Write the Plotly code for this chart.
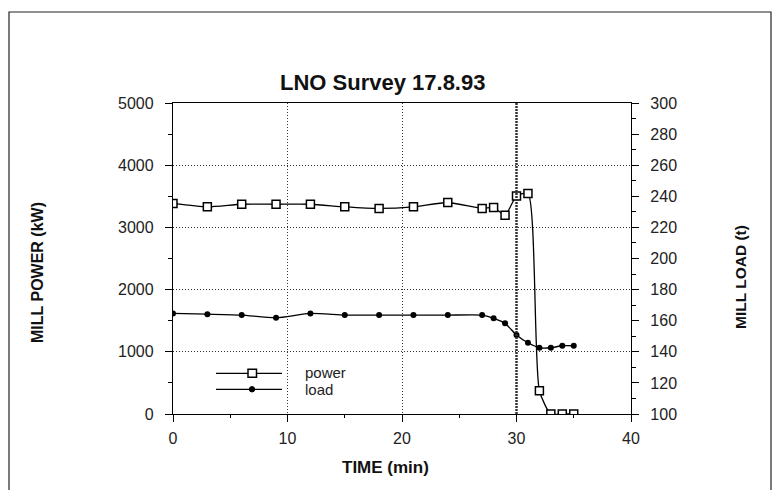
import plotly.graph_objects as go

# ---- data ----
time_power = [0, 3, 6, 9, 12, 15, 18, 21, 24, 27, 28, 29, 30, 31, 32, 33, 34, 35]
power_kw = [3385, 3330, 3372, 3372, 3372, 3330, 3305, 3330, 3400, 3305, 3320, 3196,
            3506, 3544, 374, 0, 0, 0]

time_load = [0, 3, 6, 9, 12, 15, 18, 21, 24, 27, 28, 29, 30, 31, 32, 33, 34, 35]
load_t = [164.7, 164.2, 163.6, 161.9, 164.7, 163.6, 163.6, 163.6, 163.6, 163.6,
          161.5, 158.3, 150.8, 145.8, 142.6, 142.6, 143.9, 143.9]

x_ticks = [0, 10, 20, 30, 40]
series_names = ["power", "load"]
title_text = "LNO Survey 17.8.93"

FONT = "Liberation Sans, Arial, sans-serif"

# page has an 8px body margin; plot area in page pixels: x 173..631, y 103..414
PX0, PW, PY0, PH = 173.0, 458.0, 414.0, 311.0


def xp(px):
    return (px - PX0) / PW


def yp(py):
    return (PY0 - py) / PH


fig = go.Figure()

fig.add_trace(go.Scatter(
    x=time_power, y=power_kw, name=series_names[0], mode="lines+markers",
    line=dict(color="black", width=1.3, shape="spline", smoothing=0.6),
    marker=dict(symbol="square", size=8, color="white",
                line=dict(color="black", width=1.5)),
    yaxis="y",
))
fig.add_trace(go.Scatter(
    x=time_load, y=load_t, name=series_names[1], mode="lines+markers",
    line=dict(color="black", width=1.3, shape="spline", smoothing=0.6),
    marker=dict(symbol="circle", size=6, color="black"),
    yaxis="y2",
))

# heavier line at t = 30
fig.add_shape(type="line", xref="x", yref="paper", x0=30, x1=30, y0=0, y1=1,
              line=dict(color="#333", width=2.5, dash="2px,1px"))

# outer frame
fig.add_shape(type="rect", xref="paper", yref="paper",
              x0=xp(9), x1=xp(771), y0=yp(500), y1=yp(12),
              line=dict(color="#222", width=1.2), layer="below")

# manual legend (long sample lines as in the reference)
for py in (373.3, 389.3):
    fig.add_shape(type="line", xref="paper", yref="paper",
                  x0=xp(216), x1=xp(282), y0=yp(py), y1=yp(py),
                  line=dict(color="black", width=1.3))
fig.add_shape(type="rect", xref="paper", yref="paper",
              x0=xp(248), x1=xp(256.5), y0=yp(377.3), y1=yp(369.3),
              line=dict(color="black", width=1.5), fillcolor="white")
fig.add_shape(type="circle", xref="paper", yref="paper",
              x0=xp(249.3), x1=xp(254.7), y0=yp(392), y1=yp(386.6),
              line=dict(color="black", width=1), fillcolor="black")

axis_common = dict(
    showline=True, linecolor="black", linewidth=1.3,
    ticks="outside", ticklen=7, tickwidth=1.2, tickcolor="black",
    tickfont=dict(family=FONT, size=16, color="#222"),
    zeroline=False,
)

annotations = [
    dict(text="<b>" + title_text + "</b>", x=xp(382), y=yp(82),
         xanchor="center", yanchor="middle", font=dict(family=FONT, size=22, color="#111")),
    dict(text="<b>MILL POWER (kW)</b>", x=xp(37), y=yp(273), textangle=-90,
         xanchor="center", yanchor="middle", font=dict(family=FONT, size=16, color="#111")),
    dict(text="<b>MILL LOAD (t)</b>", x=xp(740), y=yp(277), textangle=-90,
         xanchor="center", yanchor="middle", font=dict(family=FONT, size=15.5, color="#111")),
    dict(text="<b>TIME (min)</b>", x=xp(385), y=yp(467),
         xanchor="center", yanchor="middle", font=dict(family=FONT, size=17, color="#111")),
    dict(text=series_names[0], x=xp(303), y=yp(372.5),
         xanchor="left", yanchor="middle", font=dict(family=FONT, size=15, color="#222")),
    dict(text=series_names[1], x=xp(303), y=yp(389),
         xanchor="left", yanchor="middle", font=dict(family=FONT, size=15, color="#222")),
]
for a in annotations:
    a.update(xref="paper", yref="paper", showarrow=False)

GRID_DASH = "1px,2px"

fig.update_layout(
    width=780, height=490,
    margin=dict(l=165, r=157, t=95, b=84),
    paper_bgcolor="white", plot_bgcolor="white",
    showlegend=False,
    xaxis=dict(range=[0, 40], tickvals=x_ticks, mirror=True,
               showgrid=True, gridcolor="#333", griddash=GRID_DASH, gridwidth=1,
               ticklabelstandoff=3,
               minor=dict(dtick=5, ticks="outside", ticklen=3, tickcolor="black", showgrid=False),
               **axis_common),
    yaxis=dict(range=[0, 5000], dtick=1000,
               showgrid=True, gridcolor="#333", griddash=GRID_DASH, gridwidth=1,
               ticklabelstandoff=8,
               minor=dict(dtick=500, ticks="outside", ticklen=4, tickcolor="black", showgrid=False),
               **axis_common),
    yaxis2=dict(range=[100, 300], dtick=20, overlaying="y", side="right",
                showgrid=False, ticklabelstandoff=8,
                minor=dict(dtick=10, ticks="outside", ticklen=4, tickcolor="black", showgrid=False),
                **axis_common),
    annotations=annotations,
)

fig.write_html("out.html")
